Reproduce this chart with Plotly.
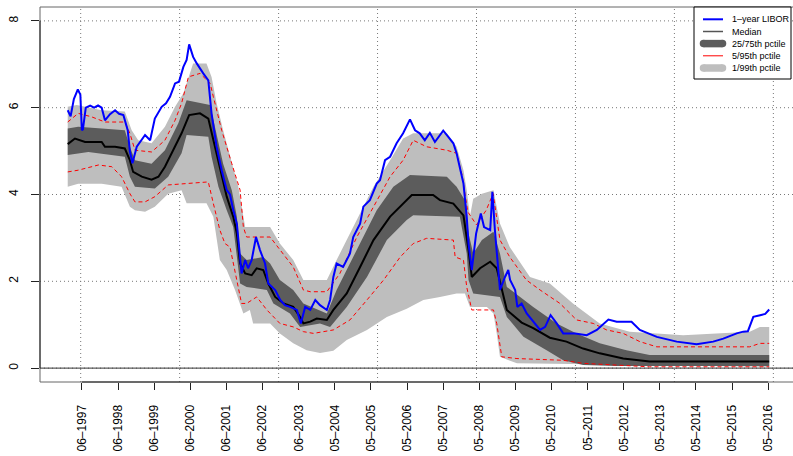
import plotly.graph_objects as go

# ---------------- data (x in decimal years) ----------------
libor_t = [1997.02, 1997.10, 1997.19, 1997.30, 1997.37, 1997.41, 1997.44, 1997.52, 1997.64, 1997.75,
           1997.86, 1997.96, 1998.05, 1998.19, 1998.33, 1998.44, 1998.56, 1998.68, 1998.74, 1998.81,
           1998.93, 1999.05, 1999.16, 1999.30, 1999.43, 1999.62, 1999.74, 1999.85, 1999.99, 2000.10,
           2000.22, 2000.31, 2000.38, 2000.49, 2000.59, 2000.77, 2000.91, 2001.00, 2001.14, 2001.28,
           2001.42, 2001.51, 2001.60, 2001.70, 2001.77, 2001.83, 2001.93, 2002.01, 2002.11, 2002.23,
           2002.34, 2002.48, 2002.57, 2002.76, 2002.90, 2003.03, 2003.17, 2003.36, 2003.47, 2003.59,
           2003.73, 2003.87, 2004.00, 2004.19, 2004.28, 2004.37, 2004.46, 2004.64, 2004.83, 2004.92,
           2005.11, 2005.20, 2005.38, 2005.57, 2005.66, 2005.80, 2005.94, 2006.12, 2006.30, 2006.49,
           2006.63, 2006.76, 2006.90, 2007.04, 2007.18, 2007.41, 2007.55, 2007.69, 2007.78, 2007.87,
           2007.97, 2008.06, 2008.11, 2008.20, 2008.32, 2008.45, 2008.54, 2008.71, 2008.77, 2008.84,
           2008.98, 2009.12, 2009.21, 2009.26, 2009.40, 2009.46, 2009.58, 2009.72, 2009.86, 2010.09,
           2010.23, 2010.38, 2010.55, 2010.73, 2011.06, 2011.38, 2011.66, 2011.98, 2012.21, 2012.62,
           2012.85, 2013.32, 2013.87, 2014.42, 2014.88, 2015.16, 2015.53, 2015.71, 2015.84, 2015.99,
           2016.18, 2016.32, 2016.43]
libor_v = [5.94, 5.80, 6.20, 6.42, 6.30, 5.48, 5.50, 6.00, 6.05, 6.00,
           6.05, 6.00, 5.71, 5.85, 5.94, 5.86, 5.83, 5.48, 5.00, 4.72,
           5.10, 5.25, 5.37, 5.25, 5.75, 6.02, 6.10, 6.25, 6.56, 6.60,
           6.94, 7.10, 7.46, 7.17, 7.02, 6.79, 6.63, 5.87, 5.10, 4.56,
           4.10, 4.00, 3.64, 3.33, 2.72, 2.18, 2.49, 2.30, 2.49, 3.02,
           2.72, 2.41, 1.95, 1.80, 1.57, 1.45, 1.41, 1.34, 1.03, 1.41,
           1.34, 1.57, 1.45, 1.34, 1.57, 2.10, 2.41, 2.33, 2.64, 3.02,
           3.33, 3.72, 3.87, 4.25, 4.33, 4.79, 4.87, 5.18, 5.41, 5.73,
           5.48, 5.41, 5.25, 5.42, 5.21, 5.47, 5.33, 5.18, 4.95, 4.64,
           4.25, 3.49, 2.87, 2.26, 3.10, 3.56, 3.25, 3.18, 4.06, 3.18,
           1.80, 2.10, 2.26, 2.03, 1.80, 1.41, 1.49, 1.26, 1.11, 0.88,
           0.95, 1.22, 1.03, 0.80, 0.80, 0.76, 0.88, 1.12, 1.07, 1.07,
           0.88, 0.72, 0.61, 0.55, 0.61, 0.68, 0.80, 0.84, 0.85, 1.18,
           1.22, 1.25, 1.35]

median_t = [1997.02, 1997.22, 1997.50, 1997.96, 1998.05, 1998.33, 1998.60, 1998.74, 1998.83, 1999.07,
            1999.34, 1999.53, 1999.71, 1999.90, 2000.17, 2000.38, 2000.68, 2000.91, 2001.05, 2001.23,
            2001.42, 2001.60, 2001.70, 2001.79, 2001.93, 2002.11, 2002.25, 2002.43, 2002.57, 2002.76,
            2002.99, 2003.26, 2003.45, 2003.54, 2003.73, 2003.91, 2004.19, 2004.37, 2004.74, 2005.11,
            2005.48, 2005.94, 2006.30, 2006.54, 2007.13, 2007.32, 2007.69, 2007.97, 2008.11, 2008.20,
            2008.43, 2008.71, 2008.89, 2009.03, 2009.17, 2009.58, 2009.90, 2010.36, 2010.82, 2011.28,
            2011.74, 2012.39, 2013.12, 2016.43]
median_v = [5.16, 5.29, 5.21, 5.21, 5.10, 5.10, 5.06, 4.79, 4.52, 4.41,
            4.34, 4.41, 4.64, 4.95, 5.41, 5.83, 5.87, 5.75, 5.25, 4.56,
            3.95, 3.49, 3.10, 2.41, 2.18, 2.14, 2.30, 2.26, 1.95, 1.64,
            1.49, 1.41, 1.18, 1.03, 1.07, 1.14, 1.11, 1.34, 1.72, 2.33,
            2.95, 3.49, 3.79, 3.99, 3.99, 3.87, 3.79, 3.52, 2.72, 2.10,
            2.30, 2.45, 2.30, 1.80, 1.34, 1.05, 0.92, 0.70, 0.61, 0.45,
            0.34, 0.22, 0.15, 0.15]

p75_t = [1997.02, 1997.31, 1997.96, 1998.60, 1998.74, 1998.88, 1999.34, 1999.71, 2000.08, 2000.31,
         2000.96, 2001.10, 2001.32, 2001.56, 2001.70, 2001.79, 2001.97, 2002.43, 2002.62, 2002.89,
         2003.26, 2003.54, 2004.19, 2004.46, 2005.02, 2005.57, 2006.03, 2006.49, 2007.51, 2007.78,
         2008.01, 2008.11, 2008.24, 2008.48, 2008.80, 2008.98, 2009.17, 2009.90, 2010.55, 2011.10,
         2011.74, 2012.48, 2013.12, 2016.43]
p75_v = [5.52, 5.56, 5.52, 5.48, 5.10, 4.79, 4.71, 5.02, 5.64, 6.17,
         6.06, 5.56, 4.71, 4.10, 3.49, 2.64, 2.49, 2.56, 2.41, 2.03,
         1.80, 1.49, 1.26, 1.80, 2.72, 3.64, 4.18, 4.45, 4.41, 4.18,
         3.87, 3.10, 2.64, 2.95, 3.14, 2.64, 1.87, 1.41, 1.03, 0.80,
         0.57, 0.41, 0.30, 0.30]

p25_t = [1997.02, 1997.59, 1997.96, 1998.60, 1998.74, 1998.88, 1999.43, 1999.80, 2000.17, 2000.31,
         2000.91, 2001.00, 2001.19, 2001.42, 2001.60, 2001.65, 2001.79, 2001.97, 2002.53, 2002.71,
         2003.17, 2003.45, 2004.00, 2004.28, 2004.74, 2005.30, 2005.85, 2006.40, 2006.58, 2007.87,
         2008.06, 2008.11, 2008.24, 2008.98, 2009.17, 2009.63, 2010.27, 2010.73, 2011.28, 2012.21,
         2016.43]
p25_v = [4.91, 4.98, 4.95, 4.87, 4.41, 4.18, 4.14, 4.41, 4.95, 5.37,
         5.33, 4.87, 4.18, 3.64, 3.25, 2.87, 1.95, 1.87, 1.80, 1.49,
         1.26, 0.95, 1.03, 0.95, 1.41, 2.10, 2.95, 3.41, 3.52, 3.49,
         2.64, 2.03, 1.72, 1.64, 1.18, 0.72, 0.41, 0.18, 0.07, 0.05,
         0.05]

p95_t = [1997.02, 1997.31, 1997.68, 1998.05, 1998.60, 1998.74, 1998.88, 1999.34, 1999.71, 1999.99,
         2000.17, 2000.36, 2000.68, 2000.96, 2001.05, 2001.28, 2001.56, 2001.79, 2001.88, 2001.97,
         2002.62, 2002.89, 2003.26, 2003.54, 2003.73, 2004.19, 2004.55, 2005.02, 2005.57, 2005.94,
         2006.30, 2006.58, 2006.95, 2007.51, 2007.78, 2007.93, 2008.09, 2008.33, 2008.60, 2008.79,
         2008.98, 2009.25, 2009.71, 2010.09, 2010.64, 2011.10, 2011.56, 2011.93, 2012.39, 2012.85,
         2013.32, 2015.89, 2016.17, 2016.43]
p95_v = [5.67, 5.87, 5.79, 5.67, 5.67, 5.41, 5.02, 4.98, 5.25, 5.71,
         6.10, 6.71, 6.79, 6.56, 6.25, 5.48, 4.71, 4.10, 3.25, 3.02,
         3.02, 2.72, 2.33, 1.80, 1.76, 1.76, 2.18, 3.02, 3.87, 4.41,
         4.79, 5.25, 5.10, 5.02, 4.95, 4.45, 3.60, 3.30, 3.64, 4.02,
         2.95, 2.56, 2.03, 1.80, 1.49, 1.11, 1.03, 0.88, 0.80, 0.61,
         0.49, 0.49, 0.57, 0.57]

p5_t = [1997.02, 1997.31, 1997.87, 1998.24, 1998.51, 1998.74, 1998.88, 1999.16, 1999.43, 1999.80,
        2000.27, 2000.91, 2001.05, 2001.23, 2001.37, 2001.51, 2001.83, 2001.97, 2002.25, 2002.53,
        2002.89, 2003.26, 2003.54, 2003.82, 2004.37, 2004.83, 2005.30, 2005.76, 2006.22, 2006.58,
        2006.95, 2007.69, 2007.74, 2007.97, 2008.06, 2008.20, 2008.80, 2008.89, 2009.03, 2009.45,
        2010.73, 2011.28, 2013.12, 2016.43]
p5_v = [4.52, 4.56, 4.68, 4.64, 4.41, 4.02, 3.83, 3.83, 3.95, 4.22,
        4.25, 4.29, 3.79, 3.18, 2.87, 2.79, 1.49, 1.49, 1.64, 1.34,
        1.03, 0.95, 0.84, 0.80, 0.88, 1.11, 1.57, 2.03, 2.56, 2.87,
        2.99, 2.95, 2.56, 2.49, 1.87, 1.34, 1.34, 1.03, 0.26, 0.22,
        0.18, 0.11, 0.03, 0.03]

p99_t = [1997.02, 1997.27, 1997.96, 1998.60, 1998.79, 1998.97, 1999.34, 1999.71, 1999.99, 2000.22,
         2000.49, 2000.86, 2001.00, 2001.14, 2001.32, 2001.51, 2001.74, 2001.93, 2002.62, 2002.89,
         2003.26, 2003.54, 2004.19, 2004.46, 2004.92, 2005.48, 2005.94, 2006.30, 2006.58, 2007.51,
         2007.78, 2007.97, 2008.06, 2008.15, 2008.24, 2008.48, 2008.80, 2008.98, 2009.25, 2009.81,
         2010.36, 2011.00, 2011.74, 2012.57, 2013.32, 2014.05, 2015.89, 2016.17, 2016.43]
p99_v = [6.02, 6.06, 5.94, 5.91, 5.48, 5.25, 5.18, 5.56, 6.02, 6.33,
         7.02, 7.02, 6.71, 6.10, 5.48, 4.87, 4.18, 3.25, 3.25, 2.87,
         2.49, 2.03, 2.03, 2.49, 3.25, 4.18, 4.79, 5.29, 5.41, 5.41,
         5.10, 4.56, 4.10, 3.50, 3.90, 4.02, 4.10, 3.33, 2.79, 2.10,
         1.95, 1.49, 1.03, 0.84, 0.80, 0.76, 0.84, 0.95, 0.95]

p1_t = [1997.02, 1997.31, 1997.96, 1998.51, 1998.74, 1998.88, 1999.16, 1999.43, 1999.80, 2000.17,
        2000.31, 2000.86, 2001.05, 2001.23, 2001.42, 2001.65, 2001.88, 2002.06, 2002.15, 2002.62,
        2002.89, 2003.26, 2003.63, 2004.00, 2004.37, 2004.74, 2005.30, 2005.85, 2006.40, 2006.86,
        2007.32, 2007.78, 2008.01, 2008.15, 2008.62, 2008.80, 2008.89, 2008.98, 2009.45, 2016.43]
p1_v = [4.18, 4.25, 4.25, 4.18, 3.72, 3.64, 3.60, 3.72, 4.02, 4.10,
        3.80, 3.80, 3.49, 2.49, 2.26, 1.80, 1.26, 1.34, 1.03, 1.03,
        0.80, 0.57, 0.41, 0.35, 0.40, 0.65, 0.88, 1.18, 1.37, 1.57,
        1.64, 1.72, 1.72, 1.41, 1.41, 1.26, 0.80, 0.26, 0.11, 0.03]

tick_years = [1997.414, 1998.413, 1999.413, 2000.412, 2001.411, 2002.411, 2003.410, 2004.409,
              2005.409, 2006.408, 2007.407, 2008.407, 2009.406, 2010.405, 2011.405, 2012.404,
              2013.403, 2014.403, 2015.402, 2016.401]
tick_labels = ["06–1997", "06–1998", "06–1999", "06–2000", "06–2001", "06–2002", "06–2003",
               "05–2004", "05–2005", "05–2006", "05–2007", "05–2008", "05–2009", "05–2010",
               "05–2011", "05–2012", "05–2013", "05–2014", "05–2015", "05–2016"]
y_ticks = [0, 2, 4, 6, 8]
grid_days = [10000, 11000, 12000, 13000, 14000, 15000, 16000, 17000]  # days since 1970-01-01

legend_labels = ["1–year LIBOR", "Median", "25/75th pctile", "5/95th pctile", "1/99th pctile"]

# ---------------- styling ----------------
LIGHT = "#bebebe"
DARK = "#5c5c5c"
RED = "#ff0000"
BLUE = "#0000ff"
FONT = "Liberation Sans, Arial, Helvetica, sans-serif"

W, H = 793, 456
ML, MR, MT, MB = 40, 0, 7, 74
PW, PH = W - ML - MR, H - MT - MB
XR = [1996.253, 2017.088]
YR = [-0.32, 8.32]


def X(px):
    return (px - ML) / PW


def Y(py):
    return (H - MB - py) / PH


fig = go.Figure()


def band(hi_t, hi_v, lo_t, lo_v, color):
    fig.add_trace(go.Scatter(x=hi_t + lo_t[::-1], y=hi_v + lo_v[::-1], fill="toself",
                             fillcolor=color, mode="lines", line=dict(width=0, color=color),
                             hoverinfo="skip", showlegend=False))


band(p99_t, p99_v, p1_t, p1_v, LIGHT)
band(p75_t, p75_v, p25_t, p25_v, DARK)
for tt, vv in [(p95_t, p95_v), (p5_t, p5_v)]:
    fig.add_trace(go.Scatter(x=tt, y=vv, mode="lines",
                             line=dict(color=RED, width=1, dash="4px,3px"), showlegend=False))
fig.add_trace(go.Scatter(x=median_t, y=median_v, mode="lines",
                         line=dict(color="black", width=2), showlegend=False))
fig.add_trace(go.Scatter(x=libor_t, y=libor_v, mode="lines",
                         line=dict(color=BLUE, width=2), showlegend=False))

shapes = []
# grid
for d in grid_days:
    yr = 1970 + d / 365.2425
    shapes.append(dict(type="line", xref="x", yref="paper", x0=yr, x1=yr, y0=0, y1=1,
                       line=dict(color="#777777", width=1, dash="1px,3px"), layer="below"))
for v in y_ticks:
    shapes.append(dict(type="line", xref="paper", yref="y", x0=0, x1=1, y0=v, y1=v,
                       line=dict(color="#777777", width=1, dash="1px,3px"), layer="below"))
# zero line
shapes.append(dict(type="line", xref="paper", yref="y", x0=0, x1=1, y0=0, y1=0,
                   line=dict(color="#333333", width=1), layer="above"))
# box (left, top, bottom)
for (x0, y0, x1, y1) in [(0, 0, 0, 1), (0, 1, 1, 1), (0, 0, 1, 0)]:
    shapes.append(dict(type="line", xref="paper", yref="paper", x0=x0, y0=y0, x1=x1, y1=y1,
                       line=dict(color="#666666", width=1)))
# axis lines (first to last tick)
shapes.append(dict(type="line", xref="x", yref="paper", x0=tick_years[0], x1=tick_years[-1],
                   y0=0, y1=0, line=dict(color="#222222", width=1)))
shapes.append(dict(type="line", xref="paper", yref="y", x0=0, x1=0, y0=0, y1=8,
                   line=dict(color="#222222", width=1)))

# legend
lx0, lx1, ly0, ly1 = 694, 791, 7, 79
shapes.append(dict(type="rect", xref="paper", yref="paper", x0=X(lx0), x1=X(lx1), y0=Y(ly1), y1=Y(ly0),
                   line=dict(color="black", width=1), fillcolor="white", layer="above"))
rows = [19.3, 31.5, 43.6, 55.8, 68.0]
annotations = []
for i, lab in enumerate(legend_labels):
    py = rows[i]
    annotations.append(dict(x=X(730), y=Y(py), xref="paper", yref="paper", text=lab,
                            showarrow=False, xanchor="left", yanchor="middle",
                            font=dict(family=FONT, size=9, color="black")))
# sample lines
shapes.append(dict(type="line", xref="paper", yref="paper", x0=X(703), x1=X(723), y0=Y(rows[0]),
                   y1=Y(rows[0]), line=dict(color=BLUE, width=2)))
shapes.append(dict(type="line", xref="paper", yref="paper", x0=X(703), x1=X(723), y0=Y(rows[1]),
                   y1=Y(rows[1]), line=dict(color="#555555", width=1.5)))
shapes.append(dict(type="line", xref="paper", yref="paper", x0=X(703), x1=X(723), y0=Y(rows[3]),
                   y1=Y(rows[3]), line=dict(color=RED, width=1)))
for r, col in [(rows[2], DARK), (rows[4], LIGHT)]:
    th = 7.5
    shapes.append(dict(type="rect", xref="paper", yref="paper", x0=X(703.5), x1=X(722.5),
                       y0=Y(r + th / 2), y1=Y(r - th / 2), line=dict(width=0), fillcolor=col))
    for cx in (703.5, 722.5):
        shapes.append(dict(type="circle", xref="paper", yref="paper", x0=X(cx - th / 2), x1=X(cx + th / 2),
                           y0=Y(r + th / 2), y1=Y(r - th / 2), line=dict(width=0), fillcolor=col))

fig.update_layout(
    width=W, height=H, margin=dict(l=ML, r=MR, t=MT, b=MB),
    paper_bgcolor="white", plot_bgcolor="white",
    shapes=shapes, annotations=annotations, showlegend=False,
    font=dict(family=FONT, size=12, color="black"),
    xaxis=dict(range=XR, showgrid=False, zeroline=False, showline=False,
               tickmode="array", tickvals=tick_years, ticktext=tick_labels, tickangle=-90,
               ticks="outside", ticklen=7, tickcolor="#222222", tickwidth=1,
               ticklabelstandoff=10, tickfont=dict(size=12, family=FONT)),
    yaxis=dict(range=YR, showgrid=False, zeroline=False, showline=False,
               tickmode="array", tickvals=y_ticks, ticktext=[str(v) for v in y_ticks],
               tickangle=-90, ticks="outside", ticklen=8, tickcolor="#222222", tickwidth=1,
               ticklabelstandoff=8, tickfont=dict(size=12, family=FONT)),
)

fig.write_html("out.html")
